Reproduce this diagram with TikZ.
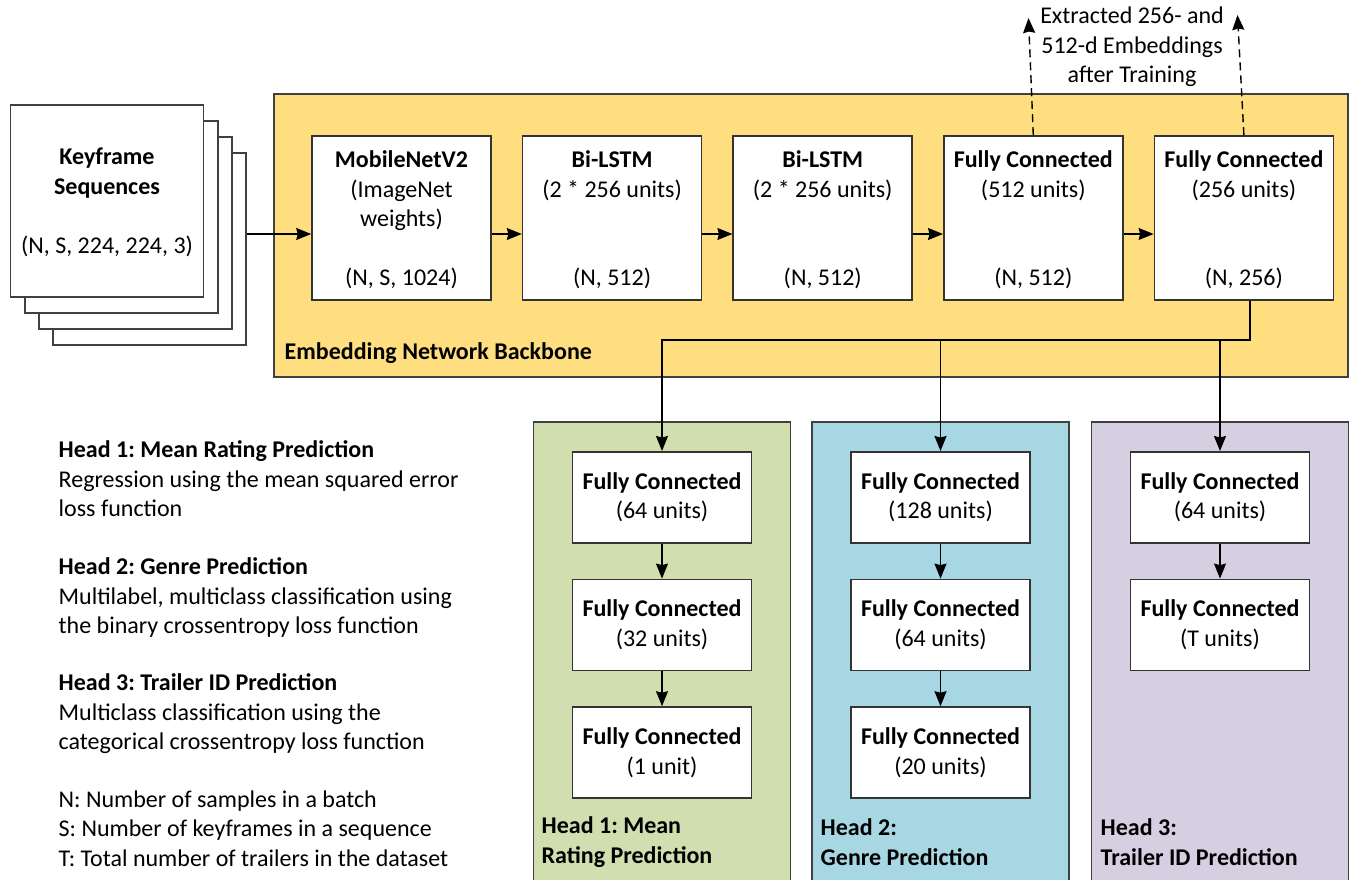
\documentclass[tikz,border=0pt]{standalone}
\usepackage{fontspec}
\setmainfont{Carlito}
\usetikzlibrary{positioning, arrows.meta, calc}
\definecolor{backbonefill}{RGB}{255,222,128}
\definecolor{headgreen}{RGB}{208,222,176}
\definecolor{headblue}{RGB}{166,215,227}
\definecolor{headpurple}{RGB}{214,207,226}
\definecolor{edgegray}{RGB}{64,64,64}
\frenchspacing
\tikzset{
	>={Stealth[length=15pt, width=12pt, inset=1.5pt]},
	node distance=30pt,
	every node/.style={font=\fontsize{24}{29.5}\selectfont},
	sheet/.style={draw=black!75, line width=1.6pt, fill=white, minimum width=193pt, minimum height=192pt, inner sep=0pt},
	layer/.style={draw=black!80, line width=1.6pt, fill=white, minimum width=179pt, minimum height=164pt, inner sep=0pt},
	dense/.style={draw=black!80, line width=1.6pt, fill=white, minimum width=179pt, minimum height=91pt, align=center, inner sep=0pt},
	region/.style={draw=edgegray, line width=1.6pt, inner sep=0pt},
	layertop/.style={anchor=north, align=center, inner sep=0pt},
	headname/.style={anchor=west, align=left, inner sep=0pt, font=\fontsize{24}{29.5}\selectfont\bfseries},
	legend/.style={anchor=north west, align=left, inner sep=0pt},
	embed/.style={->, dashed, dash pattern=on 8pt off 5pt},
}

\begin{document}
\begin{tikzpicture}[x=1pt, y=-1pt, line width=1.4pt]
	\clip (0,0) rectangle (1350,879);

	% input: stacked keyframe sheets, back to front
	\node[sheet] (sheet4) at (149.5,249) {};
	\node[sheet] (sheet3) at ([xshift=-14pt, yshift=16pt]sheet4) {};
	\node[sheet] (sheet2) at ([xshift=-14pt, yshift=16pt]sheet3) {};
	\node[sheet] (sheet1) at ([xshift=-14.5pt, yshift=16pt]sheet2) {};
	\node[align=center] (seqname) at ([yshift=-69pt]sheet1.north) {\textbf{Keyframe}\\\textbf{Sequences}};
	\node (seqshape) at ([yshift=-142pt]sheet1.north) {(N, S, 224, 224, 3)};

	% backbone
	\node[region, fill=backbonefill, minimum width=1074pt, minimum height=283pt] (backbone) at (811,235.5) {};
	\node[anchor=west, inner sep=0pt] (bbname) at (284,353) {\textbf{Embedding Network Backbone}};

	\node[layer] (mobilenet) at (401.5,218) {};
	\node[layer, right=of mobilenet] (bilstma) {};
	\node[layer, right=of bilstma] (bilstmb) {};
	\node[layer, right=of bilstmb] (fcbig) {};
	\node[layer, right=of fcbig] (fcsmall) {};

	\node[layertop] at ([yshift=-15pt]mobilenet.north) {\textbf{MobileNetV2}\\(ImageNet\\weights)};
	\node[layertop] at ([yshift=-15pt]bilstma.north) {\textbf{Bi-LSTM}\\(2 * 256 units)};
	\node[layertop] at ([yshift=-15pt]bilstmb.north) {\textbf{Bi-LSTM}\\(2 * 256 units)};
	\node[layertop] at ([yshift=-15pt]fcbig.north) {\textbf{Fully Connected}\\(512 units)};
	\node[layertop] at ([yshift=-15pt]fcsmall.north) {\textbf{Fully Connected}\\(256 units)};

	\node at ([yshift=22pt]mobilenet.south) {(N, S, 1024)};
	\node at ([yshift=22pt]bilstma.south) {(N, 512)};
	\node at ([yshift=22pt]bilstmb.south) {(N, 512)};
	\node at ([yshift=22pt]fcbig.south) {(N, 512)};
	\node at ([yshift=22pt]fcsmall.south) {(N, 256)};

	\draw[->] ([yshift=-16pt]mobilenet.west -| sheet4.east) -- ([yshift=-16pt]mobilenet.west);
	\draw[->] ([yshift=-16pt]mobilenet.east) -- ([yshift=-16pt]bilstma.west);
	\draw[->] ([yshift=-16pt]bilstma.east) -- ([yshift=-16pt]bilstmb.west);
	\draw[->] ([yshift=-16pt]bilstmb.east) -- ([yshift=-16pt]fcbig.west);
	\draw[->] ([yshift=-16pt]fcbig.east) -- ([yshift=-16pt]fcsmall.west);

	% embeddings taken out after training
	\coordinate (outbig) at (1028.5,18);
	\coordinate (outsmall) at (1237.5,15);
	\draw[embed] (fcbig.north) -- (outbig);
	\draw[embed] (fcsmall.north) -- (outsmall);
	\node[align=center] (extracted) at (1132,47) {Extracted 256- and\\512-d Embeddings\\after Training};

	% prediction heads
	\node[region, fill=headgreen, minimum width=257pt, minimum height=480pt, anchor=north] (headone) at (662,421) {};
	\node[region, fill=headblue, minimum width=257pt, minimum height=480pt, anchor=north] (headtwo) at (940.5,421) {};
	\node[region, fill=headpurple, minimum width=257pt, minimum height=480pt, anchor=north] (headthree) at (1220,421) {};

	\node[dense, below=30pt of headone.north] (onea) {\textbf{Fully Connected}\\(64 units)};
	\node[dense, below=35pt of onea] (oneb) {\textbf{Fully Connected}\\(32 units)};
	\node[dense, below=35pt of oneb] (onec) {\textbf{Fully Connected}\\(1 unit)};

	\node[dense, below=30pt of headtwo.north] (twoa) {\textbf{Fully Connected}\\(128 units)};
	\node[dense, below=35pt of twoa] (twob) {\textbf{Fully Connected}\\(64 units)};
	\node[dense, below=35pt of twob] (twoc) {\textbf{Fully Connected}\\(20 units)};

	\node[dense, below=30pt of headthree.north] (threea) {\textbf{Fully Connected}\\(64 units)};
	\node[dense, below=35pt of threea] (threeb) {\textbf{Fully Connected}\\(T units)};

	\draw[->] (onea) -- (oneb);
	\draw[->] (oneb) -- (onec);
	\draw[->] (twoa) -- (twob);
	\draw[->] (twob) -- (twoc);
	\draw[->] (threea) -- (threeb);

	\node[headname] (nameone) at (541,842) {Head 1: Mean\\Rating Prediction};
	\node[headname] (nametwo) at (820,842) {Head 2:\\Genre Prediction};
	\node[headname] (namethree) at (1100,842) {Head 3:\\Trailer ID Prediction};

	% fan-out from the 256-d layer
	\coordinate (fork) at (0,340);
	\draw[->] ([xshift=6pt]fcsmall.south) |- (fork -| onea.north) -- (onea.north);
	\draw[->] (fork -| twoa.north) -- (twoa.north);
	\draw[->] (fork -| threea.north) -- (threea.north);

	% legend
	\node[legend] (legone) at (58,440) {\textbf{Head 1: Mean Rating Prediction}\\Regression using the mean squared error\\loss function};
	\node[legend] (legtwo) at (58,557) {\textbf{Head 2: Genre Prediction}\\Multilabel, multiclass classification using\\the binary crossentropy loss function};
	\node[legend] (legthree) at (58,673) {\textbf{Head 3: Trailer ID Prediction}\\Multiclass classification using the\\categorical crossentropy loss function};
	\node[legend] (legvars) at (58,790) {N: Number of samples in a batch\\S: Number of keyframes in a sequence\\T: Total number of trailers in the dataset};
\end{tikzpicture}
\end{document}
